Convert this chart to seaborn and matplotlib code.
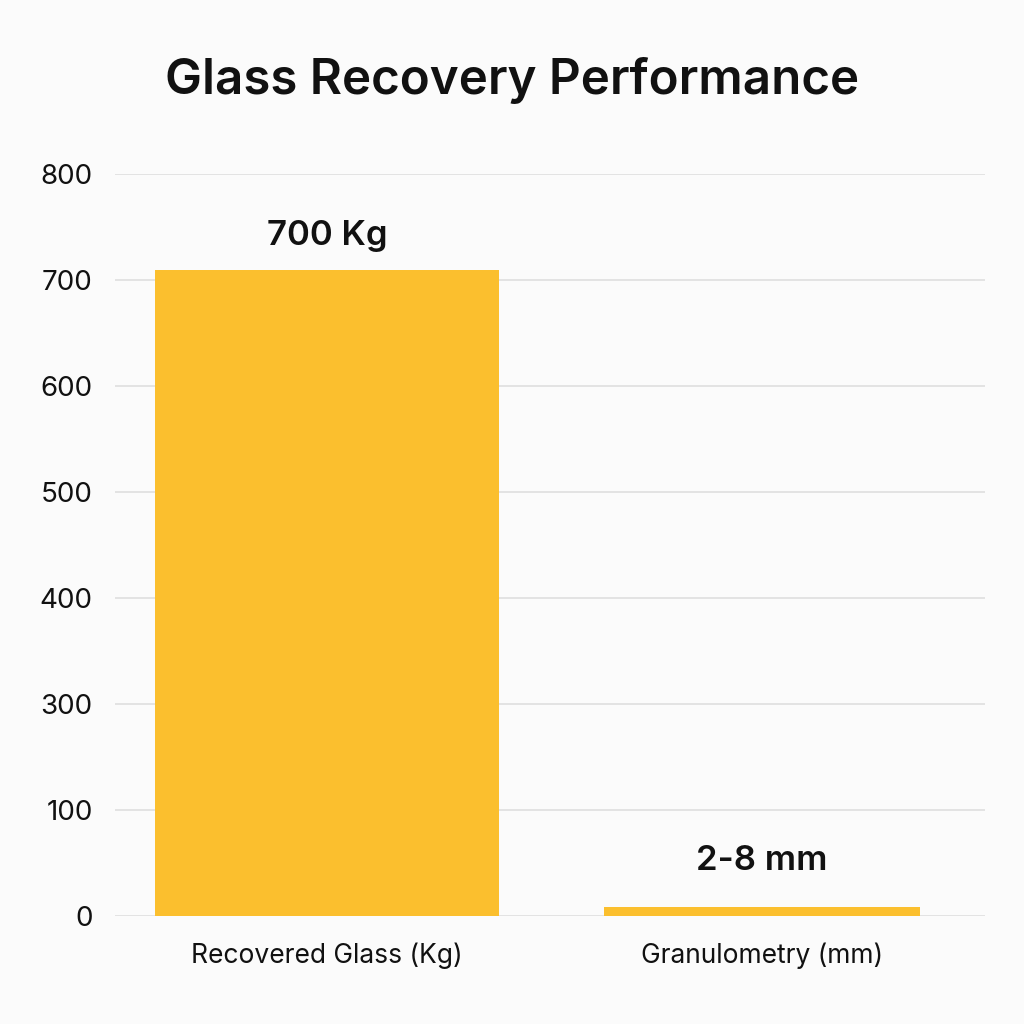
"""
Glass recovery performance - single bar chart, seaborn version.
"""
import numpy as np, pandas as pd
import matplotlib
matplotlib.use("Agg")
import matplotlib.pyplot as plt
import seaborn as sns

# ---------- data ----------
categories = ["Recovered Glass (Kg)", "Granulometry (mm)"]
values = [609, 8.5]                      # in gridline units (one gridline step = 100)
bar_labels = ["700 Kg", "2-8 mm"]
ytick_values = [0, 100, 200, 300, 400, 500, 600, 700]
ytick_labels = ["0", "100", "300", "400", "500", "600", "700", "800"]

# ---------- style ----------
BAR_COLOR = "#FBBF2E"
BG = "#FBFBFB"
BAR_WIDTHS = [0.79, 0.727]
LABEL_PAD = [18, 30]  # px above bar top

sns.set_theme(style="whitegrid")
plt.rcParams["font.family"] = ["Inter", "DejaVu Sans"]

df = pd.DataFrame({"category": categories, "value": values})

fig = plt.figure(figsize=(10.24, 10.24), dpi=100, facecolor=BG)
ax = fig.add_axes([0.1123, 0.1055, 0.8496, 0.7246], facecolor=BG)

sns.barplot(data=df, x="category", y="value", color=BAR_COLOR, saturation=1,
            width=0.79, ax=ax)

# per-bar widths, centred on their category
for patch, w in zip(ax.patches, BAR_WIDTHS):
    cx = patch.get_x() + patch.get_width() / 2
    patch.set_width(w)
    patch.set_x(cx - w / 2)
    patch.set_edgecolor("none")

ax.set_xlim(-0.4874, 1.5126)
ax.set_ylim(0, 700)
ax.set_yticks(ytick_values)
ax.set_yticklabels(ytick_labels)
ax.set_xlabel(""); ax.set_ylabel("")
ax.grid(axis="y", color="#DCDCDC", linewidth=1.1)
ax.grid(axis="x", visible=False)
ax.set_axisbelow(True)
for s in ax.spines.values():
    s.set_visible(False)
ax.tick_params(axis="y", length=0, pad=16, labelsize=20, labelcolor="#111111")
ax.tick_params(axis="x", length=0, pad=19, labelsize=19, labelcolor="#111111")

for i, (v, lab) in enumerate(zip(values, bar_labels)):
    ax.annotate(lab, xy=(i, v), xytext=(0, LABEL_PAD[i] / 1.389),
                textcoords="offset points", ha="center", va="bottom",
                fontsize=25, fontweight="semibold", color="#111111")

fig.text(0.5, 1 - 80 / 1024, "Glass Recovery Performance", ha="center", va="center",
         fontsize=35.5, fontweight="semibold", color="#111111")

fig.savefig("out.png", dpi=100, facecolor=BG)
